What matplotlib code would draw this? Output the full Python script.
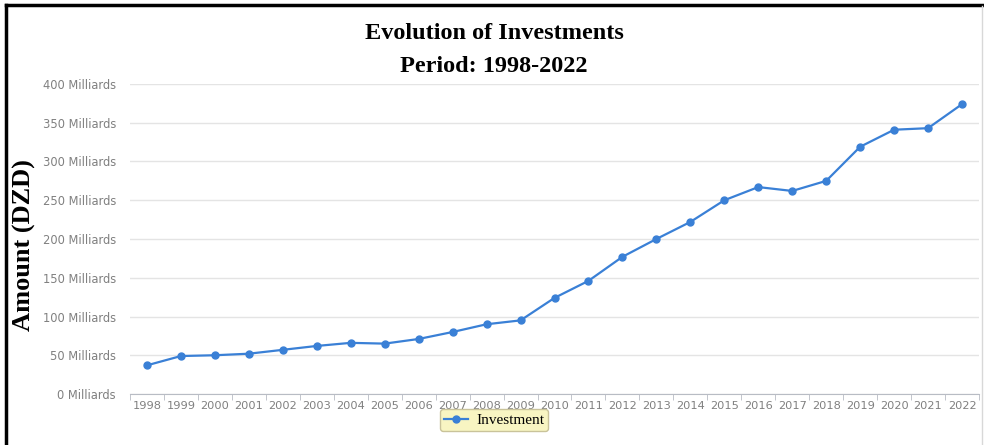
import matplotlib.pyplot as plt
from matplotlib.lines import Line2D

# Investissements annuels (milliards DZD)
years = [str(y) for y in range(1998, 2023)]
investment = [37, 49, 50, 52, 57, 62, 66, 65, 71, 80, 90, 95, 124, 146, 177,
              200, 222, 250, 267, 262, 275, 319, 341, 343, 374]
y_ticks = [0, 50, 100, 150, 200, 250, 300, 350, 400]

fig = plt.figure(figsize=(9.84, 4.45), dpi=100)
ax = fig.add_axes([130 / 984, 1 - 394 / 445, 849 / 984, 310 / 445])

x = list(range(len(years)))
ax.plot(x, investment, color='#3a80d6', lw=1.6, marker='o', ms=5,
        label='Investment', zorder=3)

ax.set_xlim(-0.5, len(years) - 0.5)
ax.set_ylim(0, 400)
ax.set_yticks(y_ticks)
ax.set_yticklabels([f'{v} Milliards' for v in y_ticks])
ax.set_xticks(x)
ax.set_xticklabels(years)
ax.set_xticks([i - 0.5 for i in range(len(years) + 1)], minor=True)

ax.grid(axis='y', color='#e4e4e4', lw=1)
ax.set_axisbelow(True)
for s in ['top', 'right', 'left']:
    ax.spines[s].set_visible(False)
ax.spines['bottom'].set_color('#b8bcc4')
ax.tick_params(axis='y', length=0, pad=10, labelsize=8.3, labelcolor='#808080')
ax.tick_params(axis='x', which='major', length=0, pad=5, labelsize=8.2,
               labelcolor='#808080')
ax.tick_params(axis='x', which='minor', length=4, color='#b8bcc4')

serif = 'Liberation Serif'
fig.text(494 / 984, 1 - 39 / 445, 'Evolution of Investments', ha='center', va='baseline',
         family=serif, weight='bold', fontsize=17.5)
fig.text(494 / 984, 1 - 72 / 445, 'Period: 1998-2022', ha='center', va='baseline',
         family=serif, weight='bold', fontsize=17.5)
fig.text(24 / 984, 1 - 245 / 445, 'Amount (DZD)', ha='center', va='center',
         rotation=90, family=serif, weight='bold', fontsize=19)

leg = fig.legend(loc='center', bbox_to_anchor=(494 / 984, 1 - 420 / 445),
                 prop={'family': serif, 'size': 11}, fancybox=True,
                 handlelength=1.6, borderpad=0.25, handletextpad=0.5)
leg.get_frame().set_facecolor('#f8f5c2')
leg.get_frame().set_edgecolor('#c9c39a')
leg.get_frame().set_alpha(1)

# cadre noir en haut et à gauche
fig.add_artist(Line2D([6 / 984, 1], [1 - 5 / 445, 1 - 5 / 445], color='black', lw=2.5))
fig.add_artist(Line2D([6 / 984, 6 / 984], [0, 1 - 5 / 445], color='black', lw=2.5))
fig.add_artist(Line2D([982 / 984, 982 / 984], [0, 1 - 6 / 445], color='#d8d8d8', lw=1))

fig.savefig('out.png', dpi=100)
